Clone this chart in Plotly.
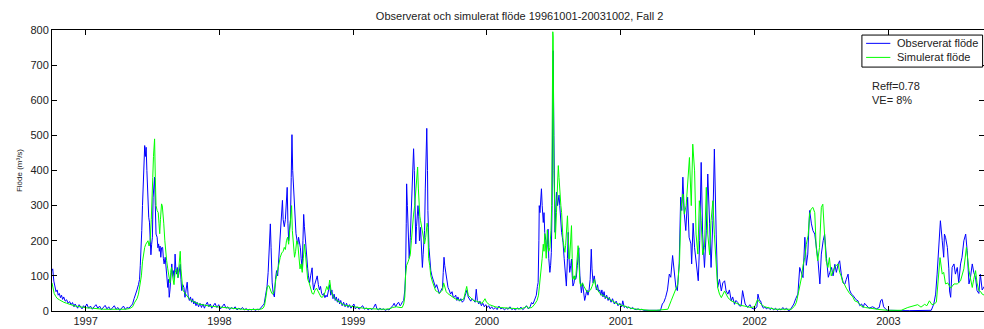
import pandas as pd
import plotly.graph_objects as go

START = "1996-10-01"
TITLE = "Observerat och simulerat flöde 19961001-20031002, Fall 2"
YEARS = [1997, 1998, 1999, 2000, 2001, 2002, 2003]
Y_TICKS = [0, 100, 200, 300, 400, 500, 600, 700, 800]
SERIES_NAMES = ["Observerat flöde", "Simulerat flöde"]
SERIES_COLORS = ["#0000ff", "#00ff00"]
STATS = ["Reff=0.78", "VE= 8%"]

# Observed flow (m3/s): day offset from 1996-10-01, value
obs_day = [
    0, 2, 5, 8, 11, 14, 17, 20, 23, 26, 29, 32, 36, 40, 44, 48, 52, 56, 60, 63, 67, 70, 74, 78, 82, 86, 90, 95,
    100, 105, 110, 115, 120, 125, 130, 135, 140, 145, 150, 155, 160, 165, 170, 175, 180, 185, 190, 195, 200, 205,
    210, 215, 220, 224, 228, 232, 236, 239, 241, 243, 245, 247, 249, 251, 253, 255, 257, 259, 261, 264, 266, 268,
    270, 272, 274, 276, 278, 280, 282, 284, 287, 289, 291, 293, 295, 297, 299, 302, 304, 306, 309, 311, 313, 316,
    318, 320, 322, 324, 327, 329, 331, 334, 336, 338, 340, 342, 344, 347, 350, 352, 354, 357, 360, 363, 366, 369,
    372, 375, 378, 381, 384, 387, 390, 393, 396, 400, 404, 408, 412, 416, 420, 424, 428, 432, 436, 440, 445, 450,
    455, 460, 465, 470, 475, 480, 485, 490, 495, 500, 505, 510, 515, 520, 525, 530, 535, 540, 545, 550, 555, 560,
    565, 570, 575, 579, 583, 587, 590, 593, 596, 598, 601, 604, 607, 610, 613, 616, 619, 622, 625, 627, 629, 631,
    634, 637, 640, 642, 644, 646, 648, 651, 653, 655, 657, 660, 662, 664, 666, 669, 671, 673, 675, 678, 680, 683,
    685, 687, 689, 692, 694, 696, 698, 700, 703, 706, 710, 712, 714, 717, 720, 724, 727, 730, 733, 736, 739, 742,
    745, 748, 751, 755, 758, 761, 764, 767, 770, 773, 776, 779, 782, 785, 788, 792, 796, 800, 804, 808, 812, 816,
    820, 824, 828, 833, 838, 843, 848, 853, 858, 863, 868, 873, 878, 883, 887, 891, 895, 900, 905, 910, 915, 920,
    925, 930, 934, 938, 942, 946, 950, 953, 956, 960, 963, 965, 967, 968, 970, 972, 975, 978, 981, 983, 985, 987,
    989, 991, 993, 995, 997, 999, 1001, 1003, 1006, 1009, 1011, 1013, 1015, 1017, 1019, 1021, 1023, 1025, 1026,
    1029, 1031, 1034, 1037, 1040, 1043, 1047, 1050, 1053, 1057, 1060, 1063, 1066, 1068, 1070, 1072, 1075, 1078,
    1081, 1084, 1088, 1092, 1095, 1098, 1102, 1105, 1108, 1112, 1116, 1120, 1124, 1128, 1133, 1136, 1140, 1143,
    1147, 1151, 1155, 1158, 1161, 1165, 1168, 1172, 1176, 1180, 1184, 1188, 1192, 1196, 1200, 1205, 1210, 1215,
    1220, 1225, 1230, 1235, 1240, 1245, 1250, 1255, 1260, 1265, 1270, 1275, 1280, 1285, 1290, 1295, 1300, 1305,
    1309, 1313, 1318, 1322, 1325, 1327, 1329, 1330, 1332, 1334, 1336, 1338, 1341, 1343, 1345, 1348, 1350, 1352,
    1354, 1356, 1359, 1361, 1363, 1365, 1367, 1368, 1370, 1373, 1375, 1377, 1380, 1382, 1384, 1386, 1388, 1391,
    1393, 1395, 1398, 1400, 1402, 1404, 1407, 1409, 1411, 1413, 1416, 1418, 1420, 1422, 1425, 1427, 1429, 1431,
    1434, 1436, 1438, 1441, 1443, 1445, 1448, 1450, 1452, 1454, 1457, 1460, 1463, 1466, 1469, 1472, 1474, 1477,
    1480, 1483, 1486, 1489, 1492, 1495, 1498, 1501, 1504, 1507, 1510, 1514, 1518, 1521, 1526, 1530, 1535, 1540,
    1545, 1550, 1555, 1558, 1562, 1566, 1570, 1575, 1580, 1585, 1590, 1595, 1600, 1605, 1610, 1615, 1625, 1635,
    1645, 1655, 1661, 1666, 1670, 1675, 1680, 1685, 1689, 1694, 1698, 1703, 1707, 1712, 1716, 1719, 1722, 1726,
    1730, 1735, 1739, 1744, 1746, 1750, 1754, 1757, 1762, 1764, 1768, 1772, 1776, 1781, 1786, 1790, 1795, 1799,
    1804, 1808, 1813, 1817, 1822, 1827, 1831, 1836, 1840, 1845, 1849, 1854, 1858, 1863, 1867, 1872, 1876, 1881,
    1885, 1888, 1892, 1899, 1905, 1910, 1918, 1924, 1927, 1931, 1934, 1938, 1942, 1946, 1950, 1955, 1960, 1965,
    1970, 1975, 1980, 1985, 1990, 1995, 2000, 2005, 2010, 2015, 2020, 2025, 2030, 2036, 2041, 2045, 2050, 2055,
    2059, 2063, 2068, 2073, 2077, 2082, 2087, 2091, 2096, 2100, 2105, 2109, 2114, 2119, 2123, 2128, 2132, 2137,
    2141, 2146, 2150, 2155, 2160, 2164, 2168, 2173, 2177, 2182, 2186, 2191, 2195, 2200, 2205, 2210, 2214, 2218,
    2225, 2230, 2240, 2250, 2258, 2262, 2266, 2270, 2276, 2280, 2290, 2300, 2320, 2340, 2360, 2380, 2400, 2407,
    2412, 2416, 2420, 2425, 2430, 2434, 2436, 2439, 2444, 2448, 2450, 2453, 2457, 2462, 2466, 2471, 2475, 2480,
    2484, 2489, 2494, 2498, 2503, 2507, 2512, 2516, 2521, 2525, 2530, 2534, 2539, 2545, 2550, 2557,
]
obs_flow = [
    115, 120, 85, 70, 55, 60, 45, 50, 38, 45, 33, 40, 28, 32, 22, 27, 18, 24, 12, 20, 15, 8, 18, 12, 6, 15, 10, 20,
    8, 14, 5, 12, 18, 8, 14, 4, 10, 16, 6, 12, 3, 9, 15, 5, 10, 2, 8, 14, 5, 10,
    8, 15, 20, 35, 45, 60, 75, 90, 130, 172, 229, 300, 352, 420, 471, 440, 466, 400, 330, 267, 253, 200,
    160, 190, 210, 324, 360, 381, 300, 219, 210, 180, 191, 170, 185, 153, 180, 181, 150, 134, 153, 120, 115, 67,
    90, 39, 60, 96, 134, 100, 115, 90, 162, 120, 105, 124, 95, 110, 133, 90, 58, 75, 67, 39, 55, 82,
    40, 30, 40, 25, 35, 20, 28, 15, 25, 12, 22, 10, 20, 8, 18, 25, 12, 20, 8, 15, 22, 10,
    18, 6, 14, 20, 8, 12, 4, 10, 6, 12, 3, 8, 5, 10, 3, 7, 2, 5, 3, 6, 2, 5,
    3, 8, 15, 20, 45, 70, 110, 200, 248, 180, 80, 50, 40, 90, 115, 100, 150, 210, 250, 280, 315, 260,
    240, 260, 300, 352, 250, 200, 230, 260, 380, 502, 400, 342, 290, 260, 220, 200, 190, 210, 200, 180, 150, 120,
    200, 275, 240, 200, 150, 150, 120, 100, 80, 100, 123, 80, 60, 75, 90, 100, 75, 60, 70, 50, 45, 50,
    38, 45, 40, 60, 75, 45, 60, 35, 48, 30, 40, 25, 35, 20, 30, 15, 25, 12, 22, 10, 18, 8,
    15, 20, 6, 12, 5, 10, 15, 5, 9, 3, 8, 4, 10, 20, 6, 3, 8, 4, 6, 2, 5, 3,
    8, 15, 22, 12, 20, 25, 15, 18, 25, 30, 60, 100, 250, 362, 300, 200, 150, 210, 300, 380, 440, 462,
    400, 250, 191, 240, 276, 300, 270, 200, 238, 150, 124, 160, 200, 229, 350, 450, 520, 400, 286,
    181, 150, 115, 100, 90, 80, 67, 75, 60, 50, 55, 62, 67, 110, 153, 130, 105, 80,
    67, 60, 48, 55, 40, 39, 45, 30, 40, 28, 35, 25, 30, 45, 60, 40, 35, 28,
    35, 30, 25, 62, 30, 20, 28, 15, 22, 12, 18, 10, 15, 6, 12, 5, 10, 4,
    14, 6, 9, 3, 8, 5, 12, 4, 7, 3, 9, 5, 11, 4, 8, 15, 6, 12,
    24, 20, 33, 45, 70, 81, 200, 300, 280, 320, 348, 300, 252, 280, 224, 200, 167, 190,
    233, 150, 110, 130, 167, 300, 600, 741, 500, 224, 280, 338, 300, 319, 330, 300, 260, 224,
    210, 195, 150, 128, 100, 71, 150, 224, 160, 110, 130, 148, 100, 71, 80, 100, 90, 95,
    130, 167, 180, 100, 70, 52, 80, 60, 50, 30, 45, 60, 45, 60, 90, 176, 120, 80,
    100, 70, 60, 75, 55, 60, 45, 60, 40, 55, 35, 45, 30, 39, 25, 35, 20, 28,
    15, 22, 12, 29, 10, 14, 8, 12, 6, 10, 5, 4, 6, 3, 5, 2, 2, 1,
    1, 1, 2, 20, 25, 39, 60, 105, 96, 158, 115, 67, 58, 134, 324, 286, 381, 276,
    229, 324, 210, 191, 134, 250, 180, 153, 115, 86, 200, 423, 219, 124, 230, 390, 250, 124,
    257, 461, 219, 67, 90, 57, 80, 86, 57, 48, 60, 29, 40, 19, 30, 24, 15, 14,
    58, 40, 20, 10, 18, 8, 5, 12, 48, 30, 29, 15, 8, 12, 6, 10, 4, 9,
    3, 8, 2, 6, 3, 10, 4, 8, 1, 3, 12, 20, 35, 48, 124, 110, 95, 210,
    130, 162, 286, 248, 229, 219, 181, 143, 77, 162, 200, 219, 150, 96, 110, 124, 100, 133,
    110, 134, 143, 100, 80, 76, 90, 105, 60, 48, 45, 38, 32, 29, 15, 20, 10, 22,
    12, 8, 12, 6, 10, 30, 33, 12, 5, 2, 2, 1, 1, 1, 1, 1, 2, 20,
    48, 105, 180, 257, 200, 153, 219, 210, 181, 120, 57, 39, 124, 134, 105, 124, 80, 134,
    153, 200, 219, 172, 77, 96, 134, 110, 95, 58, 50, 105, 60, 70, 50, 55,
]

# Simulated flow (m3/s)
sim_day = [
    0, 3, 6, 10, 14, 20, 26, 32, 40, 50, 60, 70, 80, 95, 110, 125, 140, 160, 180, 200, 212, 220, 226, 232, 236,
    240, 244, 247, 250, 253, 256, 259, 262, 265, 268, 271, 273, 275, 277, 279, 280, 282, 284, 287, 290, 292, 294,
    296, 299, 301, 303, 305, 308, 311, 313, 316, 318, 320, 322, 324, 326, 329, 331, 333, 336, 340, 344, 347, 350,
    352, 354, 357, 360, 364, 368, 372, 380, 390, 400, 410, 420, 430, 440, 450, 460, 470, 480, 490, 500, 520, 540,
    560, 570, 576, 580, 584, 588, 592, 596, 600, 603, 607, 611, 615, 619, 623, 627, 631, 634, 637, 640, 643, 646,
    649, 652, 654, 656, 659, 662, 665, 668, 671, 674, 677, 680, 683, 686, 689, 692, 695, 698, 702, 706, 710, 714,
    718, 722, 726, 730, 734, 738, 742, 746, 750, 754, 758, 762, 766, 770, 775, 780, 785, 790, 795, 800, 810, 820,
    830, 840, 850, 860, 870, 880, 890, 900, 910, 920, 930, 940, 950, 956, 960, 963, 965, 968, 972, 975, 978, 981,
    984, 987, 990, 993, 996, 998, 1000, 1002, 1004, 1006, 1009, 1012, 1015, 1017, 1020, 1022, 1024, 1026, 1028,
    1031, 1034, 1038, 1042, 1047, 1052, 1057, 1062, 1066, 1069, 1072, 1076, 1080, 1086, 1092, 1100, 1108, 1116,
    1124, 1128, 1132, 1136, 1140, 1144, 1150, 1158, 1166, 1174, 1182, 1186, 1194, 1200, 1210, 1220, 1230, 1240,
    1250, 1260, 1270, 1280, 1290, 1296, 1300, 1310, 1318, 1324, 1328, 1332, 1335, 1338, 1341, 1343, 1345, 1347,
    1349, 1352, 1354, 1356, 1359, 1362, 1364, 1366, 1367, 1368, 1370, 1372, 1374, 1377, 1380, 1382, 1384, 1386,
    1389, 1391, 1393, 1395, 1398, 1400, 1402, 1405, 1407, 1409, 1411, 1413, 1416, 1418, 1420, 1422, 1425, 1427,
    1430, 1433, 1436, 1438, 1441, 1444, 1448, 1452, 1456, 1460, 1465, 1470, 1474, 1478, 1481, 1484, 1488, 1492,
    1496, 1500, 1505, 1510, 1515, 1520, 1525, 1530, 1540, 1550, 1560, 1570, 1580, 1590, 1600, 1615, 1630, 1650,
    1670, 1681, 1690, 1699, 1708, 1713, 1717, 1722, 1726, 1731, 1735, 1740, 1745, 1749, 1754, 1758, 1763, 1767,
    1772, 1776, 1781, 1786, 1790, 1795, 1799, 1804, 1808, 1813, 1817, 1822, 1827, 1836, 1845, 1854, 1863, 1872,
    1881, 1890, 1899, 1908, 1918, 1926, 1931, 1936, 1945, 1954, 1963, 1972, 1990, 2008, 2018, 2027, 2032, 2037,
    2041, 2046, 2050, 2055, 2059, 2064, 2068, 2072, 2077, 2082, 2086, 2090, 2095, 2100, 2104, 2109, 2113, 2118,
    2122, 2127, 2132, 2136, 2141, 2146, 2150, 2154, 2159, 2163, 2168, 2172, 2177, 2186, 2191, 2200, 2209, 2220,
    2230, 2245, 2260, 2280, 2318, 2336, 2345, 2354, 2363, 2372, 2382, 2388, 2395, 2402, 2408, 2414, 2418, 2424,
    2430, 2434, 2439, 2445, 2453, 2462, 2471, 2480, 2489, 2496, 2503, 2508, 2512, 2516, 2521, 2525, 2530, 2535,
    2539, 2545, 2550, 2557,
]
sim_flow = [
    80, 60, 50, 42, 36, 32, 28, 25, 22, 18, 15, 13, 11, 9, 8, 6, 5, 5, 4, 5, 7, 12, 25, 35, 48,
    70, 100, 140, 165, 181, 190, 195, 200, 185, 200, 260, 300, 380, 440, 470, 490, 380, 300, 286, 280, 250, 220,
    260, 305, 300, 280, 250, 200, 150, 143, 120, 105, 95, 80, 110, 124, 100, 90, 75, 110, 120, 95, 130, 170,
    120, 80, 60, 55, 48, 42, 38, 30, 25, 20, 18, 15, 14, 13, 12, 10, 9, 8, 7, 6, 5, 4,
    4, 5, 8, 15, 40, 70, 72, 60, 50, 48, 60, 90, 115, 135, 153, 165, 170, 181, 175, 200, 210, 190,
    240, 295, 300, 229, 180, 153, 170, 200, 190, 150, 120, 134, 110, 150, 190, 160, 110, 90, 80, 60, 50, 48,
    60, 65, 55, 50, 40, 39, 45, 55, 70, 60, 88, 55, 45, 38, 32, 28, 24, 22, 18, 16, 14, 12,
    10, 9, 8, 7, 6, 6, 5, 5, 5, 6, 10, 12, 10, 10, 20, 40, 100, 130, 140, 150, 160, 200,
    257, 276, 300, 343, 380, 410, 350, 300, 270, 257, 240, 220, 200, 191, 210, 229, 250, 238, 150,
    130, 100, 85, 70, 58, 55, 50, 55, 60, 80, 70, 55, 50, 45, 40, 35, 32, 30,
    35, 50, 70, 45, 40, 35, 30, 28, 25, 22, 35, 25, 18, 15, 12, 10, 9, 8,
    7, 6, 5, 6, 10, 14, 8, 10, 20, 30, 45, 80, 120, 150, 190, 170, 220, 180,
    150, 230, 200, 170, 180, 230, 300, 600, 795, 780, 400, 250, 205, 281, 360, 414, 380, 338,
    300, 281, 220, 200, 180, 167, 186, 230, 271, 220, 148, 150, 200, 243, 150, 90, 100, 90,
    100, 140, 186, 150, 80, 70, 80, 70, 60, 55, 55, 60, 70, 80, 90, 70, 60, 55,
    50, 45, 45, 40, 38, 35, 30, 28, 22, 18, 14, 10, 8, 6, 5, 3, 2, 2,
    3, 5, 29, 50, 76, 143, 295, 333, 276, 300, 352, 437, 300, 475, 399, 219, 162, 314,
    257, 160, 181, 352, 219, 160, 257, 314, 219, 124, 67, 48, 38, 57, 38, 29, 24, 19,
    16, 14, 12, 10, 12, 33, 25, 19, 12, 10, 7, 5, 5, 5, 5, 14, 25, 50,
    67, 96, 130, 153, 190, 215, 276, 290, 295, 280, 181, 143, 181, 295, 304, 219, 143, 124,
    152, 100, 115, 124, 130, 134, 110, 100, 80, 76, 65, 58, 50, 40, 29, 25, 14, 10,
    8, 5, 4, 2, 2, 10, 12, 14, 18, 11, 19, 15, 29, 18, 20, 25, 86, 152,
    105, 110, 77, 80, 65, 77, 77, 86, 120, 181, 115, 90, 67, 90, 115, 80, 58, 55,
    48, 45, 50, 52,
]

t0 = pd.Timestamp(START)
obs_dates = t0 + pd.to_timedelta(obs_day, unit="D")
sim_dates = t0 + pd.to_timedelta(sim_day, unit="D")
year_ticks = [pd.Timestamp(f"{y}-01-01") for y in YEARS]
x_end = t0 + pd.Timedelta(days=2544)

FONT = "Liberation Sans, Arial, sans-serif"
TXT = "#222222"

fig = go.Figure()
fig.add_trace(go.Scatter(x=obs_dates, y=obs_flow, mode="lines", name=SERIES_NAMES[0],
                         line=dict(color=SERIES_COLORS[0], width=1)))
fig.add_trace(go.Scatter(x=sim_dates, y=sim_flow, mode="lines", name=SERIES_NAMES[1],
                         line=dict(color=SERIES_COLORS[1], width=1)))

# Compact MATLAB-style legend box (paper coordinates of the plot area)
lg_x0, lg_x1, lg_y0, lg_y1 = 0.869, 0.9985, 0.868, 0.982
row_y = [0.9525, 0.9025]
shapes = [dict(type="rect", xref="paper", yref="paper", x0=lg_x0, x1=lg_x1, y0=lg_y0, y1=lg_y1,
               line=dict(color="black", width=1), fillcolor="white", layer="above")]
annotations = []
for name, color, yy in zip(SERIES_NAMES, SERIES_COLORS, row_y):
    shapes.append(dict(type="line", xref="paper", yref="paper", x0=0.8735, x1=0.8995, y0=yy, y1=yy,
                       line=dict(color=color, width=1), layer="above"))
    annotations.append(dict(text=name, xref="paper", yref="paper", x=0.9045, y=yy,
                            xanchor="left", yanchor="middle", showarrow=False,
                            font=dict(family=FONT, size=11, color=TXT)))
for txt, yy in zip(STATS, [0.80, 0.75]):
    annotations.append(dict(text=txt, xref="paper", yref="paper", x=0.878, y=yy,
                            xanchor="left", yanchor="middle", showarrow=False,
                            font=dict(family=FONT, size=11, color=TXT)))

fig.update_layout(
    width=984, height=329,
    margin=dict(l=52, r=0, t=30, b=18),
    paper_bgcolor="white", plot_bgcolor="white",
    font=dict(family=FONT, size=11, color=TXT),
    title=dict(text=TITLE, x=0.528, xanchor="center", y=0.95, yanchor="middle",
               font=dict(family=FONT, size=11, color=TXT)),
    showlegend=False,
    xaxis=dict(type="date", range=[t0, x_end], tickvals=year_ticks, ticktext=[str(y) for y in YEARS],
               ticks="inside", ticklen=5, tickcolor="black", showline=True, linecolor="black",
               linewidth=1, mirror="allticks", showgrid=False, zeroline=False,
               tickfont=dict(size=11)),
    yaxis=dict(range=[0, 800], tickvals=Y_TICKS, ticks="inside", ticklen=5, tickcolor="black",
               showline=True, linecolor="black", linewidth=1, mirror="allticks",
               showgrid=False, zeroline=False, tickfont=dict(size=11),
               title=dict(text="Flöde (m³/s)", font=dict(size=8), standoff=6)),
    shapes=shapes,
    annotations=annotations,
)

fig.write_html("out.html")
